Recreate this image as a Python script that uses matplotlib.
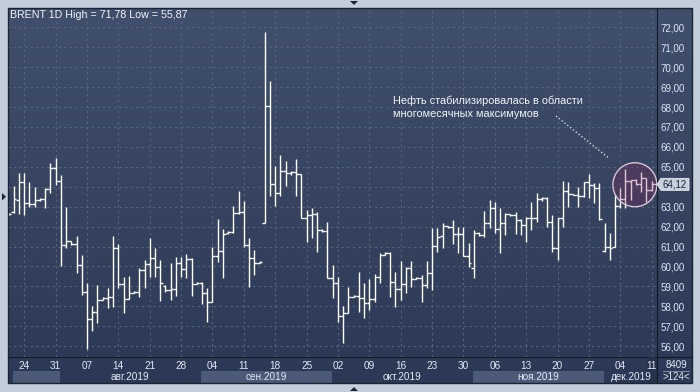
import numpy as np
import matplotlib.pyplot as plt
from matplotlib.patches import Rectangle, Ellipse, Polygon
from matplotlib.lines import Line2D

plt.rcParams['font.family'] = ['Liberation Sans', 'DejaVu Sans']

# daily bars, short sunday sessions included (6 bars a week)
opens = [62.65, 62.72, 63.34, 64.26, 63.17, 63.12, 63.34, 63.39, 63.89, 64.96,
         64.29, 61.10, 61.27, 61.15, 60.05, 58.73, 57.34, 57.69, 58.31, 58.40,
         58.47, 60.93, 59.10, 58.35, 58.69, 58.72, 59.82, 60.10, 60.41, 59.99,
         59.00, 58.80, 58.85, 60.16, 59.86, 60.38, 59.12, 59.17, 58.65, 58.23,
         60.52, 60.77, 61.70, 61.75, 62.70, 62.75, 61.08, 60.41, 60.16, 62.17,
         68.07, 64.12, 63.67, 64.81, 64.67, 64.75, 64.62, 62.45, 62.58, 62.62,
         61.83, 61.80, 59.41, 59.19, 57.53, 57.65, 58.49, 58.50, 58.40, 58.15,
         58.35, 59.49, 60.58, 60.65, 59.24, 58.85, 59.10, 59.91, 59.36, 59.40,
         59.07, 59.66, 61.03, 61.53, 62.03, 62.00, 61.63, 61.63, 60.53, 59.90,
         61.70, 61.60, 62.17, 62.92, 61.88, 62.17, 62.63, 62.60, 62.33, 62.08,
         62.41, 62.41, 63.37, 63.45, 62.25, 60.95, 62.42, 63.79, 63.64, 63.60,
         63.54, 64.26, 64.09, 63.92, 60.79, 60.99, 60.99, 63.03, 63.37, 64.29,
         64.34, 64.12, 64.42, 63.84, 64.12]
highs = [62.70, 64.04, 64.71, 64.71, 64.26, 63.97, 63.42, 63.92, 65.21, 65.43,
         64.58, 62.96, 61.30, 61.52, 60.57, 59.19, 58.00, 59.09, 58.45, 58.93,
         61.52, 61.12, 59.48, 59.52, 58.75, 59.90, 60.32, 61.41, 60.91, 60.32,
         59.07, 60.16, 60.45, 60.45, 60.63, 60.41, 59.20, 59.24, 58.90, 60.99,
         62.40, 61.90, 61.80, 63.03, 63.78, 63.28, 61.41, 60.83, 60.25, 71.78,
         69.30, 65.04, 65.59, 65.29, 64.80, 65.39, 64.62, 62.83, 62.92, 62.75,
         61.90, 62.25, 60.07, 59.49, 58.02, 58.99, 58.55, 59.71, 59.15, 59.37,
         59.60, 60.66, 60.70, 60.71, 59.74, 60.29, 59.99, 60.29, 59.45, 59.57,
         60.29, 61.92, 61.92, 62.17, 62.05, 62.35, 61.96, 61.96, 61.20, 61.83,
         61.75, 62.80, 63.33, 63.25, 62.92, 62.70, 62.65, 62.75, 62.37, 62.50,
         63.25, 63.70, 63.47, 63.50, 62.58, 62.42, 64.29, 64.26, 63.66, 64.00,
         64.26, 64.64, 64.17, 64.17, 62.16, 61.66, 63.59, 63.92, 64.87, 64.34,
         64.40, 64.72, 64.42, 64.29, 64.30]
lows = [62.60, 62.67, 62.63, 62.58, 63.00, 63.00, 63.30, 62.92, 63.70, 64.09,
        60.03, 60.95, 61.10, 59.68, 58.59, 55.87, 56.77, 57.14, 58.30, 57.89,
        57.97, 58.90, 57.68, 58.35, 58.65, 58.49, 58.90, 59.49, 59.49, 58.28,
        58.74, 58.32, 58.51, 59.48, 59.44, 58.50, 59.10, 58.12, 57.23, 58.23,
        60.23, 59.40, 61.65, 61.66, 62.62, 61.00, 58.99, 59.57, 60.15, 62.17,
        63.55, 63.05, 63.55, 64.06, 64.60, 63.55, 62.42, 61.25, 61.41, 60.74,
        61.75, 59.40, 58.40, 57.23, 56.15, 57.65, 58.45, 57.73, 57.40, 57.82,
        58.20, 59.15, 60.55, 58.49, 57.98, 58.32, 58.65, 58.99, 59.35, 58.23,
        58.90, 58.82, 60.70, 60.95, 61.95, 61.15, 60.66, 60.53, 59.99, 59.41,
        61.55, 61.50, 61.91, 61.66, 60.66, 61.60, 62.55, 61.63, 61.58, 61.25,
        61.83, 62.25, 63.30, 62.00, 60.74, 60.33, 61.96, 63.00, 63.58, 62.97,
        63.47, 63.42, 63.20, 62.33, 60.74, 60.33, 60.99, 62.92, 62.92, 63.33,
        64.10, 63.75, 63.25, 63.80, 63.90]
closes = [62.62, 63.39, 64.26, 63.17, 63.12, 63.34, 63.39, 63.89, 64.96, 64.29,
          61.10, 61.27, 61.15, 60.05, 58.73, 57.34, 57.69, 58.31, 58.40, 58.47,
          60.93, 59.10, 58.35, 58.69, 58.72, 59.82, 60.10, 60.41, 59.99, 59.15,
          58.80, 58.85, 60.16, 59.86, 60.38, 59.12, 59.17, 58.65, 58.23, 60.52,
          60.77, 61.65, 61.75, 62.70, 62.75, 61.08, 60.41, 60.16, 60.21, 68.07,
          64.12, 63.67, 64.81, 64.67, 64.75, 64.62, 62.45, 62.58, 62.62, 61.83,
          61.80, 59.41, 59.19, 57.53, 57.65, 58.49, 58.50, 58.40, 58.15, 58.35,
          59.49, 60.58, 60.65, 59.24, 58.85, 59.10, 59.91, 59.36, 59.40, 59.07,
          59.66, 61.03, 61.50, 62.03, 62.00, 61.63, 61.63, 60.53, 60.19, 61.70,
          61.60, 62.17, 62.92, 61.88, 62.17, 62.63, 62.60, 62.33, 62.08, 62.41,
          62.41, 63.37, 63.45, 62.25, 60.95, 62.42, 63.79, 63.64, 63.60, 63.54,
          64.26, 64.09, 63.92, 62.38, 61.00, 60.91, 63.03, 63.37, 64.29, 64.34,
          64.12, 64.42, 63.84, 64.12, 64.12]

week_labels = ['24', '31', '07', '14', '21', '28', '04', '11', '18', '25', '02',
               '09', '16', '23', '30', '06', '13', '20', '27', '04', '11']
week_bar = [3 + 6 * j for j in range(len(week_labels))]   # wednesday bars
months = ['авг.2019', 'сен.2019', 'окт.2019', 'ноя.2019', 'дек.2019']
month_edges = [0.8, 9.8, 36.8, 61.8, 88.8, 113.8, 124.4]  # jul..dec
price_ticks = list(range(56, 73))
last_price = closes[-1]
annotation = 'Нефть стабилизировалась в области\nмногомесячных максимумов'

W, H = 700, 392


def fr(x0, y0, x1, y1):
    return [x0 / W, 1 - y1 / H, (x1 - x0) / W, (y1 - y0) / H]


fig = plt.figure(figsize=(7, 3.92), dpi=100)
fig.patch.set_facecolor('#c3cedb')

# panel gradient
bg = fig.add_axes(fr(8, 8, 692, 383))
g = np.linspace(0, 1, 256)[:, None, None]
top = np.array([64, 79, 107]) / 255
bot = np.array([44, 57, 86]) / 255
bg.imshow(top + (bot - top) * g, aspect='auto', extent=[0, 1, 0, 1])
bg.axis('off')

ax = fig.add_axes(fr(8, 8, 656.7, 356.7))
ax.set_facecolor('none')
x = np.arange(len(closes))
ax.set_xlim(-0.11, 123.97)
ax.set_ylim(55.47, 72.97)

for v in price_ticks:
    ax.axhline(v, color='#56657f', lw=0.8, ls=(0, (2, 3)), zorder=1)
for b in week_bar:
    ax.axvline(b, color='#56657f', lw=0.8, ls=(0, (2, 3)), zorder=1)

ax.vlines(x, lows, highs, color='white', lw=1.0, zorder=3)
ax.hlines(opens, x - 0.5, x, color='white', lw=1.0, zorder=3)
ax.hlines(closes, x, x + 0.5, color='white', lw=1.0, zorder=3)

for s in ['top', 'left']:
    ax.spines[s].set_visible(False)
ax.spines['right'].set_color('#121a28')
ax.spines['bottom'].set_color('#121a28')
ax.set_xticks([])
ax.yaxis.tick_right()
ax.set_yticks(price_ticks)
ax.set_yticklabels([f'{v:.2f}'.replace('.', ',') if v != 64 else '' for v in price_ticks])
ax.tick_params(axis='y', length=0, pad=3, labelsize=7, labelcolor='#dbe5f6')

hi, lo = max(highs), min(lows)
ax.text(0.003, 0.98, f'BRENT 1D High = {hi:.2f} Low = {lo:.2f}'.replace('.', ','),
        transform=ax.transAxes, ha='left', va='center', fontsize=7.7, color='#f2f5fa')

ax.text(73.6, 67.99, annotation, ha='left', va='center', fontsize=7.9,
        color='#f2f5fa', linespacing=1.45)
ax.plot([104.7, 114.8], [67.55, 65.44], ls=(0, (1, 1.6)), color='#cfd6e0', lw=1.0, zorder=4)

ax.add_patch(Ellipse((119.8, 64.1), 44 / 5.228, 44 / 19.93, fc=(0.55, 0.12, 0.32, 0.25),
                     ec='#d4c4d4', lw=1.0, zorder=5))

# last price tag
tr = ax.get_yaxis_transform()
px = lambda p: (p - 8) / 648.7
dy = 6 / 19.93
tag = Polygon([(px(657), last_price), (px(661), last_price + dy), (px(689), last_price + dy),
               (px(689), last_price - dy), (px(661), last_price - dy)], closed=True,
              transform=tr, clip_on=False, fc='#c8d0db', ec='#e4e9f0', lw=0.6, zorder=6)
ax.add_patch(tag)
ax.text(px(675), last_price, f'{last_price:.2f}'.replace('.', ','), transform=tr,
        ha='center', va='center', fontsize=7, color='#14243c', zorder=7, clip_on=False)

# date strip
dax = fig.add_axes(fr(8, 356.7, 656.7, 383))
dax.set_xlim(ax.get_xlim())
dax.set_ylim(0, 1)
dax.axis('off')
for i in range(0, len(month_edges) - 1, 2):
    dax.add_patch(Rectangle((month_edges[i], 0), month_edges[i + 1] - month_edges[i], 0.46,
                            fc='#4b5a77', ec='none'))
for b, t in zip(week_bar, week_labels):
    dax.text(b, 0.66, t, ha='center', va='center', fontsize=7.2, color='#e2e9f5')
for i, m in enumerate(months):
    c = (month_edges[i + 1] + min(month_edges[i + 2], 125)) / 2
    dax.text(c, 0.24, m, ha='center', va='center', fontsize=7.2, color='#e2e9f5')
dax.add_patch(Rectangle((122.2, 0), 2.0, 1, fc='#243049', ec='none', alpha=0.75))

fig.text(676 / W, 1 - 365 / H, '8409', ha='center', va='center', fontsize=7, color='#e2e9f5')
fig.text(676 / W, 1 - 377 / H, '>124<', ha='center', va='center', fontsize=7, color='#e2e9f5')
fig.add_artist(Line2D([663 / W, 689 / W], [1 - 371 / H, 1 - 371 / H], color='#8e9bb2', lw=0.6))
fig.add_artist(Line2D([656.7 / W, 656.7 / W], [1 - 383 / H, 1 - 356.7 / H], color='#121a28', lw=0.8))
fig.add_artist(Line2D([656.7 / W, 692 / W], [1 - 356.7 / H, 1 - 356.7 / H], color='#121a28', lw=0.8))

# frame and small markers
fig.add_artist(Rectangle((8 / W, 1 - 383 / H), 684 / W, 375 / H, transform=fig.transFigure,
                         fill=False, ec='#1b2435', lw=1.0))
for pts in ([(350, 1), (358, 1), (354, 5)], [(350, 391), (358, 391), (354, 387)],
            [(2, 193), (2, 200.5), (6, 196.7)]):
    fig.add_artist(Polygon([(a / W, 1 - b / H) for a, b in pts], closed=True,
                           transform=fig.transFigure, fc='#1d2535', ec='none'))

fig.savefig('out.png', dpi=100, facecolor=fig.get_facecolor())
